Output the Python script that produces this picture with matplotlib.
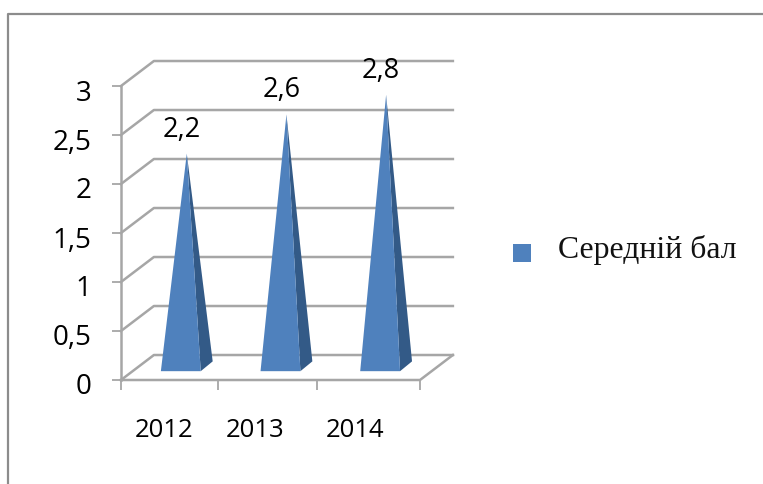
import numpy as np
import matplotlib
matplotlib.use("Agg")
import matplotlib.pyplot as plt
from matplotlib.lines import Line2D
from matplotlib.patches import Polygon, Rectangle
from matplotlib.transforms import ScaledTranslation

years = ["2012", "2013", "2014"]
values = [2.2, 2.6, 2.8]
value_labels = ["2,2", "2,6", "2,8"]
y_ticks = [0, 0.5, 1, 1.5, 2, 2.5, 3]
y_labels = ["0", "0,5", "1", "1,5", "2", "2,5", "3"]
series_name = "Середній бал"

W, H = 763, 485
GRID = "#a6a6a6"
FRONT = "#4f81bd"
SIDE = "#335a87"
DX, DY = 0.33, 0.255      # depth offset of the back wall, data units
TIP = 0.11                # tip sits this far above the value on the wall

fig = plt.figure(figsize=(W / 100, H / 100), dpi=100, facecolor="white")
ax = fig.add_axes([121 / W, 1 - 381 / H, 299 / W, 294 / H])
ax.set_xlim(0, 3); ax.set_ylim(0, 3)
ax.patch.set_visible(False)
for s in ax.spines.values():
    s.set_visible(False)

# fake 3d walls
for v in y_ticks:
    ax.plot([0, DX, 3 + DX], [v, v + DY, v + DY], color=GRID, lw=1.8, clip_on=False, zorder=1)
ax.plot([0, 3, 3 + DX], [0, 0, DY], color=GRID, lw=1.8, clip_on=False, zorder=1)
ax.plot([0, 0], [0, 3], color=GRID, lw=1.8, clip_on=False, zorder=1)

# pyramids
for i, v in enumerate(values):
    left, right, back, tip = i + 0.40, i + 0.80, i + 0.92, i + 0.66
    ax.add_patch(Polygon([(right, 0.09), (back, 0.19), (tip, v + TIP)], color=SIDE, lw=0, clip_on=False, zorder=2))
    ax.add_patch(Polygon([(left, 0.09), (right, 0.09), (tip, v + TIP)], color=FRONT, lw=0, clip_on=False, zorder=3))
    ax.annotate(value_labels[i], (tip, v + TIP), xytext=(-3.6, 8),
                textcoords="offset points", ha="center", va="bottom", fontsize=19.5,
                family="Open Sans", color="black", zorder=4)

ax.set_yticks(y_ticks, y_labels, family="Open Sans", fontsize=20)
ax.set_xticks([0, 0.97, 1.97, 3], [""] * 4)
ax.tick_params(axis="y", length=6.5, width=1.3, color=GRID, pad=15)
ax.tick_params(axis="x", length=7, width=1.3, color=GRID)
shift = ScaledTranslation(0, -3 / 100, fig.dpi_scale_trans)
for t in ax.get_yticklabels():
    t.set_transform(t.get_transform() + shift)
for i, lab in enumerate(years):
    ax.annotate(lab, (i + 0.5, 0), xytext=(-5 if i == 0 else -11, -36), textcoords="offset points",
                ha="center", va="center", fontsize=18.5, family="Open Sans", color="black")

# legend drawn by hand in figure space
fig.add_artist(Rectangle((513 / W, 1 - 263 / H), 18 / W, 18 / H, transform=fig.transFigure, color=FRONT, lw=0))
fig.text(558 / W, 1 - 250 / H, series_name, family="Liberation Serif", fontsize=22.9, va="center", color="#111111")

# outer frame
fig.add_artist(Line2D([8 / W, 8 / W, 1], [0, 1 - 15 / H, 1 - 15 / H], transform=fig.transFigure, color="#8c8c8c", lw=1.6))

fig.savefig("out.png", dpi=100)
